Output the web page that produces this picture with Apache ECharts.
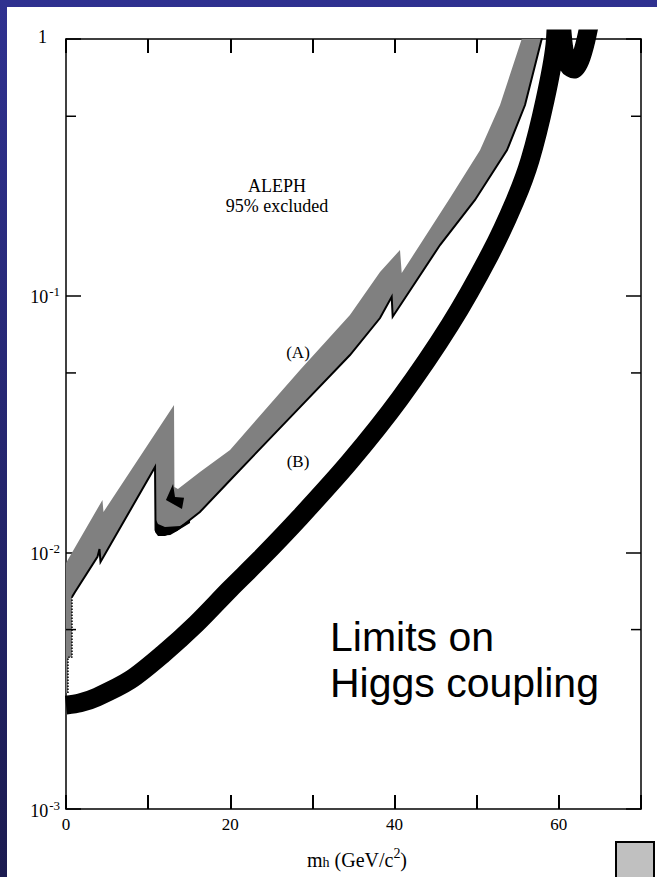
<!DOCTYPE html>
<html><head><meta charset="utf-8">
<script src="https://cdn.jsdelivr.net/npm/echarts@6/dist/echarts.min.js"></script>
<style>html,body{margin:0;padding:0;background:#fff}#c{width:657px;height:877px}</style>
</head><body><div id="c"></div>
<script>
// ---------------- data ----------------
const xRange = [0, 70];
const xTickStep = 10;
const xLabelValues = [0, 20, 40, 60];
const yRange = [0.001, 1];
const yMinorTicks = [0.5, 0.05, 0.005];

// curve (A): lower boundary (black line), dotted start near m_h = 0
const aStartX = [0.24, 0.24, 0.73, 0.73];
const aStartY = [0.00283, 0.0039, 0.0039, 0.0067];
// curve (A): main black line
const aLineX = [0.73, 1.1, 3.83, 4.08, 4.2, 10.84, 10.9, 11.44, 12.66, 13.51, 16.3, 19.97, 28.49, 34.57, 38.23, 39.65, 39.77, 45.53, 49.79, 53.69, 55.88, 57.91, 58.7];
const aLineY = [0.0067, 0.0070, 0.0096, 0.0103, 0.00917, 0.0215, 0.01222, 0.0117, 0.01178, 0.01222, 0.01436, 0.0191, 0.0368, 0.0587, 0.0818, 0.099, 0.0828, 0.1575, 0.236, 0.369, 0.553, 1.0, 1.3];
// curve (A): upper edge of grey band
const aBandTopX = [0, 4.44, 4.56, 13.15, 13.2, 13.63, 16.31, 19.97, 28.49, 34.57, 38.23, 40.66, 40.87, 43.46, 46.75, 50.4, 52.84, 55.48, 56.24];
const aBandTopY = [0.00909, 0.016, 0.01436, 0.0375, 0.01797, 0.01766, 0.02056, 0.02505, 0.0513, 0.0841, 0.1237, 0.1507, 0.1226, 0.1647, 0.240, 0.369, 0.553, 1.0, 1.3];
// small black pieces of (A) near 11-15 GeV
const aBlobX = [10.84, 11.2, 12.05, 13.88, 15.1, 15.1, 13.51, 12.05, 11.2, 10.84];
const aBlobY = [0.0136, 0.01289, 0.01255, 0.01267, 0.01337, 0.01301, 0.01211, 0.01158, 0.01158, 0.012];
const aWedgeX = [12.17, 13.03, 13.27, 14.37, 14.12];
const aWedgeY = [0.016, 0.01845, 0.01643, 0.0163, 0.01476];
// curve (B): thick black band centre line
const bX = [0, 1.7, 3.77, 7.79, 11.81, 15.83, 19.97, 23.62, 28.49, 34.57, 40.66, 46.75, 51.62, 54.66, 56.49, 58.32, 59.53, 59.9, 60.26, 60.63, 61.24, 61.85, 62.58, 63.3, 64.04];
const bY = [0.00254, 0.00259, 0.00273, 0.00318, 0.00402, 0.00526, 0.0072, 0.0094, 0.0137, 0.0226, 0.0398, 0.0770, 0.145, 0.234, 0.3377, 0.5786, 0.948, 1.7, 1.19, 0.906, 0.785, 0.764, 0.828, 0.991, 1.3];

// ---------------- chart ----------------
const pairs = (xs, ys) => xs.map((x, i) => [x, ys[i]]);
const SERIF = "'Liberation Serif','DejaVu Serif',serif";

function polygonSeries(pts, color, z) {
  return {
    type: 'custom', coordinateSystem: 'cartesian2d', clip: true, z: z, silent: true,
    data: [pts[0]],
    renderItem: (params, api) => ({
      type: 'polygon',
      shape: { points: pts.map(p => api.coord(p)) },
      style: { fill: color, stroke: null }
    })
  };
}

const aStart = pairs(aStartX, aStartY);
const aLine = pairs(aLineX, aLineY);
const aTop = pairs(aBandTopX, aBandTopY);
const greyPoly = aTop.concat(aLine.slice().reverse(), aStart.slice().reverse(), [[0, aStartY[0]]]);

const chart = echarts.init(document.getElementById('c'), null, { renderer: 'svg', width: 657, height: 877 });

const axisLineStyle = { show: true, onZero: false, lineStyle: { color: '#000', width: 1.5 } };
const xTick = { show: true, inside: true, length: 14, lineStyle: { color: '#000', width: 2 } };
const yTick = { show: true, inside: true, length: 15, lineStyle: { color: '#000', width: 1.5 } };

const option = {
  animation: false,
  backgroundColor: '#fff',
  grid: { left: 66, right: 16, top: 39, bottom: 68, containLabel: false },
  xAxis: [
    { type: 'value', min: xRange[0], max: xRange[1], interval: xTickStep, position: 'bottom',
      axisLine: axisLineStyle, axisTick: xTick, splitLine: { show: false },
      axisLabel: { color: '#000', fontFamily: SERIF, fontSize: 17, margin: 7,
        formatter: v => xLabelValues.indexOf(v) >= 0 ? String(v) : '' } },
    { type: 'value', min: xRange[0], max: xRange[1], interval: xTickStep, position: 'top',
      axisLine: axisLineStyle, axisTick: xTick, splitLine: { show: false }, axisLabel: { show: false } }
  ],
  yAxis: [
    { type: 'log', logBase: 10, min: yRange[0], max: yRange[1], position: 'left',
      axisLine: axisLineStyle, axisTick: yTick, splitLine: { show: false },
      axisLabel: { margin: 6, color: '#000',
        formatter: v => {
          const e = Math.round(Math.log10(v));
          if (e === 0) return '{one|1}';
          return '{b|10}{s|' + e + '}';
        },
        rich: {
          one: { fontFamily: SERIF, fontSize: 18, color: '#000', padding: [0, 13, 4, 0] },
          b: { fontFamily: SERIF, fontSize: 18, color: '#000', verticalAlign: 'bottom' },
          s: { fontFamily: SERIF, fontSize: 13, color: '#000', verticalAlign: 'bottom', padding: [0, 0, 8, 1] }
        } } },
    { type: 'log', logBase: 10, min: yRange[0], max: yRange[1], position: 'right',
      axisLine: axisLineStyle, axisTick: yTick, splitLine: { show: false }, axisLabel: { show: false } }
  ],
  series: [
    polygonSeries(greyPoly, '#808080', 1),
    { type: 'line', data: aStart, symbol: 'none', clip: true, z: 3,
      lineStyle: { color: '#000', width: 1.5, type: 'dotted' } },
    { type: 'line', data: aLine, symbol: 'none', clip: true, z: 3,
      lineStyle: { color: '#000', width: 2, join: 'miter' } },
    polygonSeries(pairs(aBlobX, aBlobY), '#000', 4),
    polygonSeries(pairs(aWedgeX, aWedgeY), '#000', 4),
    { type: 'line', data: pairs(bX, bY), symbol: 'none', clip: true, z: 5, smooth: 0.3,
      lineStyle: { color: '#000', width: 19, join: 'round', cap: 'butt' } },
    { type: 'custom', coordinateSystem: 'cartesian2d', z: 6, silent: true,
      data: yMinorTicks.map(v => [xRange[0], v]),
      renderItem: (params, api) => {
        const v = api.value(1);
        const a = api.coord([xRange[0], v]);
        const b = api.coord([xRange[1], v]);
        return { type: 'group', children: [
          { type: 'line', shape: { x1: a[0], y1: a[1], x2: a[0] + 10, y2: a[1] }, style: { stroke: '#000', lineWidth: 1.5 } },
          { type: 'line', shape: { x1: b[0], y1: b[1], x2: b[0] - 10, y2: b[1] }, style: { stroke: '#000', lineWidth: 1.5 } }
        ] };
      } }
  ],
  graphic: [
    { type: 'rect', z: -100, silent: true, shape: { x: 0, y: 0, width: 657, height: 877 },
      style: { fill: new echarts.graphic.LinearGradient(0, 0, 0, 1, [
        { offset: 0, color: '#2f3190' }, { offset: 1, color: '#1b1b50' }]) } },
    { type: 'rect', z: -99, silent: true, shape: { x: 7, y: 7, width: 650, height: 870 }, style: { fill: '#fff' } },
    { type: 'rect', z: 50, shape: { x: 616, y: 842, width: 38, height: 40 },
      style: { fill: '#c0c0c0', stroke: '#000', lineWidth: 2 } },
    { type: 'text', z: 50, x: 277, y: 186, style: { text: 'ALEPH', font: "18px 'Liberation Serif'", fill: '#000', align: 'center', verticalAlign: 'middle' } },
    { type: 'text', z: 50, x: 277, y: 206, style: { text: '95% excluded', font: "18px 'Liberation Serif'", fill: '#000', align: 'center', verticalAlign: 'middle' } },
    { type: 'text', z: 50, x: 298, y: 352, style: { text: '(A)', font: "17px 'Liberation Serif'", fill: '#000', align: 'center', verticalAlign: 'middle' } },
    { type: 'text', z: 50, x: 298, y: 461, style: { text: '(B)', font: "17px 'Liberation Serif'", fill: '#000', align: 'center', verticalAlign: 'middle' } },
    { type: 'text', z: 50, x: 330, y: 637, style: { text: 'Limits on', font: "41px 'Liberation Sans'", fill: '#000', align: 'left', verticalAlign: 'middle' } },
    { type: 'text', z: 50, x: 330, y: 683, style: { text: 'Higgs coupling', font: "41px 'Liberation Sans'", fill: '#000', align: 'left', verticalAlign: 'middle' } },
    { type: 'text', z: 50, x: 357, y: 858, style: {
        text: '{m|m}{h|h}{t| (GeV/c}{sup|2}{t|)}', align: 'center', verticalAlign: 'middle',
        rich: {
          m: { fontFamily: SERIF, fontSize: 20, fill: '#000', verticalAlign: 'bottom' },
          h: { fontFamily: SERIF, fontSize: 14, fill: '#000', verticalAlign: 'bottom' },
          t: { fontFamily: SERIF, fontSize: 20, fill: '#000', verticalAlign: 'bottom' },
          sup: { fontFamily: SERIF, fontSize: 14, fill: '#000', verticalAlign: 'bottom', padding: [0, 0, 9, 0] }
        } } }
  ]
};
chart.setOption(option);
</script></body></html>
